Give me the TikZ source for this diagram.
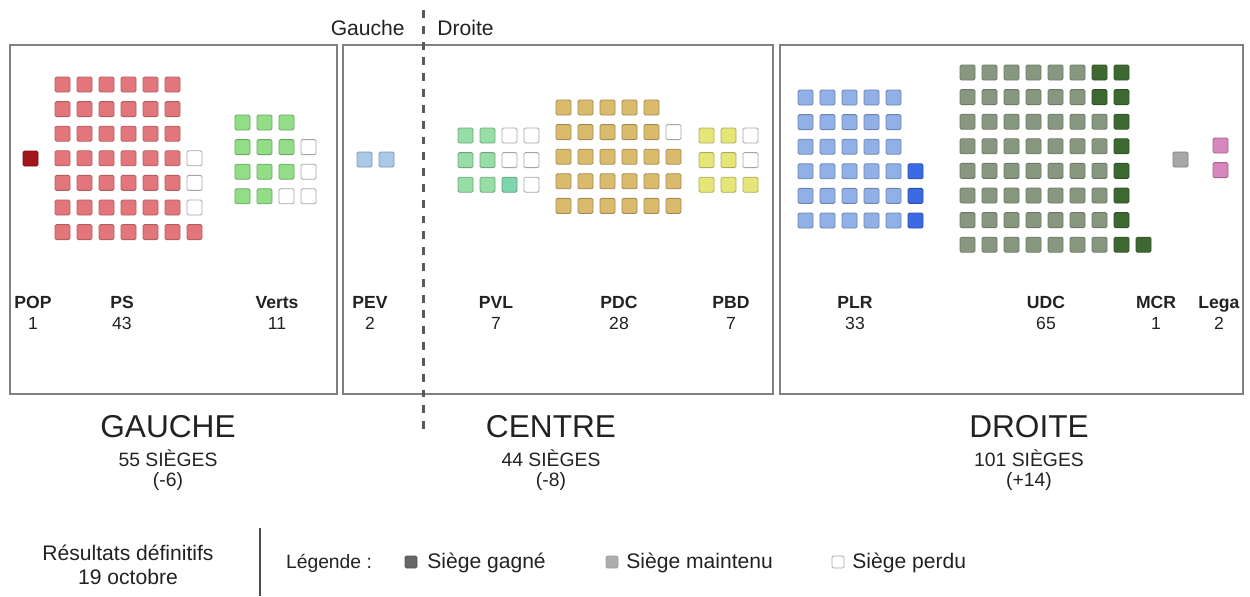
\documentclass[tikz,border=0pt]{standalone}
\usepackage{fontspec}
\setmainfont{Liberation Sans}
\usepackage{tikz}
\usetikzlibrary{positioning}
\definecolor{popred}{RGB}{160,22,26}
\definecolor{psred}{RGB}{226,118,122}
\definecolor{vertsgreen}{RGB}{146,222,134}
\definecolor{pevblue}{RGB}{170,200,232}
\definecolor{pvlgreen}{RGB}{150,222,166}
\definecolor{pvlteal}{RGB}{128,212,172}
\definecolor{pdctan}{RGB}{218,186,108}
\definecolor{pbdyellow}{RGB}{230,230,120}
\definecolor{plrblue}{RGB}{146,176,232}
\definecolor{plrdark}{RGB}{60,106,226}
\definecolor{udcgray}{RGB}{136,152,128}
\definecolor{udcdark}{RGB}{62,104,50}
\definecolor{mcrgray}{RGB}{168,168,168}
\definecolor{legapink}{RGB}{216,134,190}
\definecolor{framegray}{RGB}{128,128,128}
\definecolor{inkgray}{RGB}{34,34,34}
\newcommand{\Bloc}{\fontsize{18}{20}\selectfont}
\newcommand{\Sub}{\fontsize{11}{13}\selectfont}
\newcommand{\Note}{\fontsize{12}{13.5}\selectfont}
\newcommand{\Party}{\fontsize{10}{12}\selectfont}
\newcommand{\Seats}[5]{\foreach \i in {#3}{\foreach \j in {#4}{\draw[#5] ({#1+\i*22},{#2+\j*24.6}) rectangle ++(15,15);}}}

\begin{document}
\begin{tikzpicture}[x=0.02cm,y=-0.02cm,text=inkgray]

\tikzstyle{seat}=[line width=0.5pt,rounded corners=0.8pt]
\tikzstyle{lost}=[seat,fill=white,draw=black!35]
\tikzstyle{frame}=[draw=framegray,line width=0.9pt]
\tikzstyle{split}=[draw=black!65,line width=1.7pt,dash pattern=on 4.5pt off 4.5pt]
\tikzstyle{party}=[align=center,font=\Party]

\useasboundingbox (0,0) rectangle (1250,596);

\draw[frame] (10,45) rectangle (337,394);
\draw[frame] (343,45) rectangle (773,394);
\draw[frame] (780,45) rectangle (1243,394);

\coordinate (splittop) at (423,10);
\coordinate (splitbot) at (423,436);
\draw[split] (splittop) to (splitbot);

\node[anchor=east,inner sep=0] at (405, 28)   (gauche) {\Note Gauche};
\node[anchor=west,inner sep=0] at (437, 28)   (droite) {\Note Droite};

\Seats{23}{151}{0}{0}{seat,fill=popred,draw=popred!80!black}
\Seats{55}{77}{0,...,5}{0,...,6}{seat,fill=psred,draw=psred!80!black}
\Seats{55}{77}{6}{6}{seat,fill=psred,draw=psred!80!black}
\Seats{55}{77}{6}{3,4,5}{lost}
\Seats{235}{115}{0,1,2}{0,1,2}{seat,fill=vertsgreen,draw=vertsgreen!75!black}
\Seats{235}{115}{0,1}{3}{seat,fill=vertsgreen,draw=vertsgreen!75!black}
\Seats{235}{115}{3}{1,2}{lost}
\Seats{235}{115}{2,3}{3}{lost}

\Seats{357}{152}{0,1}{0}{seat,fill=pevblue,draw=pevblue!75!black}
\Seats{458}{128}{0,1}{0,1,2}{seat,fill=pvlgreen,draw=pvlgreen!75!black}
\Seats{458}{128}{2}{2}{seat,fill=pvlteal,draw=pvlteal!75!black}
\Seats{458}{128}{2,3}{0,1}{lost}
\Seats{458}{128}{3}{2}{lost}
\Seats{556}{100}{0,...,4}{0,...,4}{seat,fill=pdctan,draw=pdctan!75!black}
\Seats{556}{100}{5}{2,3,4}{seat,fill=pdctan,draw=pdctan!75!black}
\Seats{556}{100}{5}{1}{lost}
\Seats{699}{128}{0,1}{0,1,2}{seat,fill=pbdyellow,draw=pbdyellow!75!black}
\Seats{699}{128}{2}{2}{seat,fill=pbdyellow,draw=pbdyellow!75!black}
\Seats{699}{128}{2}{0,1}{lost}

\Seats{798}{90}{0,...,4}{0,...,5}{seat,fill=plrblue,draw=plrblue!75!black}
\Seats{798}{90}{5}{3,4,5}{seat,fill=plrdark,draw=plrdark!75!black}
\Seats{960}{65}{0,...,5}{0,...,7}{seat,fill=udcgray,draw=udcgray!80!black}
\Seats{960}{65}{6}{2,...,7}{seat,fill=udcgray,draw=udcgray!80!black}
\Seats{960}{65}{6}{0,1}{seat,fill=udcdark,draw=udcdark!80!black}
\Seats{960}{65}{7}{0,...,7}{seat,fill=udcdark,draw=udcdark!80!black}
\Seats{960}{65}{8}{7}{seat,fill=udcdark,draw=udcdark!80!black}
\Seats{1173}{152}{0}{0}{seat,fill=mcrgray,draw=mcrgray!75!black}
\Seats{1213}{138}{0}{0,1}{seat,fill=legapink,draw=legapink!75!black}

\node[party] at (33, 313)    (pop) {\textbf{POP}\\1};
\node[party] at (122, 313)   (ps) {\textbf{PS}\\43};
\node[party] at (277, 313)   (verts) {\textbf{Verts}\\11};
\node[party] at (370, 313)   (pev) {\textbf{PEV}\\2};
\node[party] at (496, 313)   (pvl) {\textbf{PVL}\\7};
\node[party] at (619, 313)   (pdc) {\textbf{PDC}\\28};
\node[party] at (731, 313)   (pbd) {\textbf{PBD}\\7};
\node[party] at (855, 313)   (plr) {\textbf{PLR}\\33};
\node[party] at (1046, 313)  (udc) {\textbf{UDC}\\65};
\node[party] at (1156, 313)  (mcr) {\textbf{MCR}\\1};
\node[party] at (1219, 313)  (lega) {\textbf{Lega}\\2};

\node at (168, 427)   (gaucheBloc) {\Bloc GAUCHE};
\node at (168, 458)   (gaucheSieges) {\Sub 55 SIÈGES};
\node at (168, 481)   (gaucheDiff) {\Sub (-6)};

\node at (551, 427)   (centreBloc) {\Bloc CENTRE};
\node at (551, 458)   (centreSieges) {\Sub 44 SIÈGES};
\node at (551, 481)   (centreDiff) {\Sub (-8)};

\node at (1029, 427)  (droiteBloc) {\Bloc DROITE};
\node at (1029, 458)  (droiteSieges) {\Sub 101 SIÈGES};
\node at (1029, 481)  (droiteDiff) {\Sub (+14)};

\node[align=center,font=\Note] at (128, 565)   (resultats) {Résultats définitifs\\19 octobre};
\coordinate (septop) at (260,528);
\coordinate (sepbot) at (260,596);
\draw[black!70,line width=0.8pt] (septop) to (sepbot);

\node at (329, 563)   (legende) {\Sub Légende :};
\draw[seat,fill=black!60,draw=black!65] (405,556) rectangle ++(12,12);
\node[anchor=west,inner sep=0] at (427, 563)   (gagne) {\Note Siège gagné};
\draw[seat,fill=black!32,draw=black!38] (606,556) rectangle ++(12,12);
\node[anchor=west,inner sep=0] at (626, 563)   (maintenu) {\Note Siège maintenu};
\draw[lost] (832,556) rectangle ++(12,12);
\node[anchor=west,inner sep=0] at (852, 563)   (perdu) {\Note Siège perdu};

\end{tikzpicture}
\end{document}
